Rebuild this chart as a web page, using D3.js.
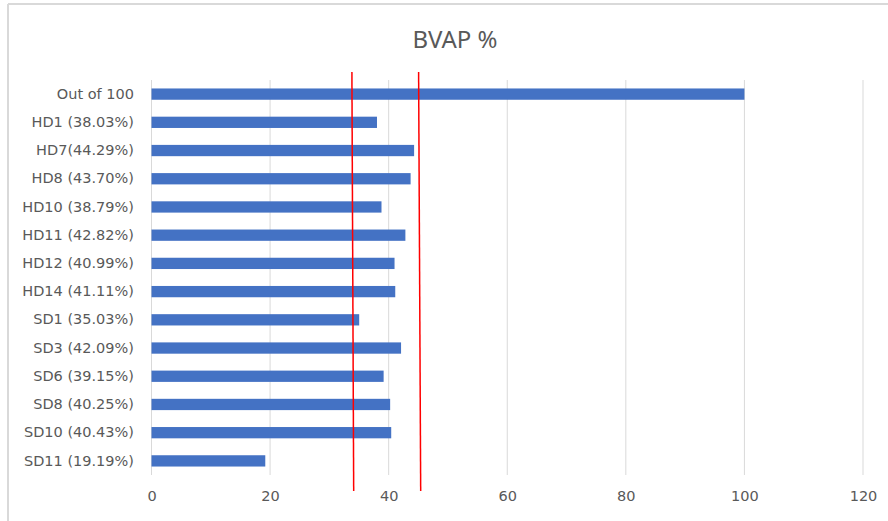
<!DOCTYPE html>
<html>
<head>
<meta charset="utf-8">
<script src="https://cdn.jsdelivr.net/npm/d3@7"></script>
<style>
html,body{margin:0;padding:0;background:#fff;}
svg{display:block;}
</style>
</head>
<body>
<svg id="chart" width="888" height="521"></svg>
<script>
const categories = ["Out of 100","HD1 (38.03%)","HD7(44.29%)","HD8 (43.70%)","HD10 (38.79%)","HD11 (42.82%)","HD12 (40.99%)","HD14 (41.11%)","SD1 (35.03%)","SD3 (42.09%)","SD6 (39.15%)","SD8 (40.25%)","SD10 (40.43%)","SD11 (19.19%)"];
const values = [100,38.03,44.29,43.70,38.79,42.82,40.99,41.11,35.03,42.09,39.15,40.25,40.43,19.19];
const xTicks = [0,20,40,60,80,100,120];
const refTop = [33.8,45.05];
const refBottom = [34.1,45.4];
const title = "BVAP %";

const svg = d3.select("#chart");
const font = "'DejaVu Sans', sans-serif";
const grey = "#595959";

// frame
svg.append("line").attr("x1",8).attr("x2",888).attr("y1",4).attr("y2",4).attr("stroke","#d9d9d9").attr("stroke-width",2);
svg.append("line").attr("x1",8).attr("x2",8).attr("y1",4).attr("y2",521).attr("stroke","#d9d9d9").attr("stroke-width",2);

const plot = {left:151.5, right:863, top:80, bottom:475};
const x = d3.scaleLinear().domain([0,120]).range([plot.left, plot.right]);
const y = d3.scaleBand().domain(categories).range([plot.top, plot.bottom]).paddingInner(0.6).paddingOuter(0.3);

// gridlines
svg.append("g").selectAll("line").data(xTicks).join("line")
  .attr("x1",d=>x(d)).attr("x2",d=>x(d))
  .attr("y1",plot.top).attr("y2",plot.bottom)
  .attr("stroke","#d9d9d9").attr("stroke-width",1);

// bars
svg.append("g").selectAll("rect").data(values).join("rect")
  .attr("x",x(0))
  .attr("y",(d,i)=>y(categories[i]))
  .attr("width",d=>x(d)-x(0))
  .attr("height",y.bandwidth())
  .attr("fill","#4472c4");

// category labels
const yAxis = d3.axisLeft(y).tickSize(0).tickPadding(0);
const gy = svg.append("g").attr("transform",`translate(${134},0)`).call(yAxis);
gy.select(".domain").remove();
gy.selectAll("text").attr("font-family",font).attr("font-size","14.5px").attr("fill",grey);

// x axis labels
const xAxis = d3.axisBottom(x).tickValues(xTicks).tickSize(0).tickPadding(0);
const gx = svg.append("g").attr("transform",`translate(0,${491})`).call(xAxis);
gx.select(".domain").remove();
gx.selectAll("text").attr("font-family",font).attr("font-size","14.5px").attr("fill",grey);

// red reference lines
svg.append("g").selectAll("line").data(refTop).join("line")
  .attr("x1",d=>x(d)).attr("x2",(d,i)=>x(refBottom[i]))
  .attr("y1",72).attr("y2",491)
  .attr("stroke","#ff0000").attr("stroke-width",1.5);

// title
svg.append("text").attr("x",455).attr("y",48).attr("text-anchor","middle")
  .attr("font-family","'Noto Sans', sans-serif").attr("font-size","24px").attr("fill",grey).text(title);
</script>
</body>
</html>
